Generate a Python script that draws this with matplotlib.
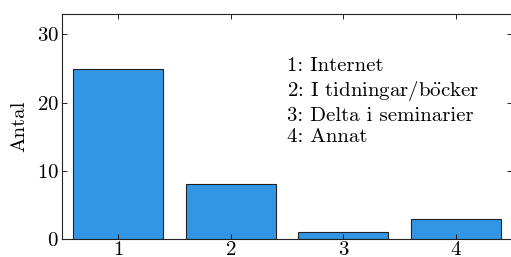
import matplotlib
matplotlib.use('Agg')
import matplotlib.pyplot as plt

plt.rcParams['font.family'] = ['cmr10', 'DejaVu Serif']
plt.rcParams['mathtext.fontset'] = 'cm'
plt.rcParams['axes.formatter.use_mathtext'] = True
plt.rcParams['font.size'] = 15

# data
categories = [1, 2, 3, 4]
counts = [25, 8, 1, 3]
labels = ['Internet', r'I tidningar/b$\ddot{\mathrm{o}}$cker', 'Delta i seminarier', 'Annat']

fig = plt.figure(figsize=(5.11, 2.57), dpi=100)
ax = fig.add_axes([0.1207, 0.07, 0.882, 0.8755])

ax.bar(categories, counts, width=0.8, color='#3396e4', edgecolor='#222222', linewidth=0.8)

ax.set_xlim(0.5, 4.5)
ax.set_ylim(0, 33)
ax.set_xticks(categories)
ax.set_yticks([0, 10, 20, 30])
ax.tick_params(direction='in', length=3.5, width=0.6, top=True, right=True)
ax.tick_params(axis='x', pad=1.5)
ax.tick_params(axis='y', pad=2)
for s in ax.spines.values():
    s.set_linewidth(0.8)
    s.set_color('#222222')
ax.set_ylabel('Antal', labelpad=6)

ax.text(0.5, 0.81, '\n'.join(f'{c}: {t}' for c, t in zip(categories, labels)),
        transform=ax.transAxes, ha='left', va='top', linespacing=1.26)

fig.savefig('out.png', dpi=100)
